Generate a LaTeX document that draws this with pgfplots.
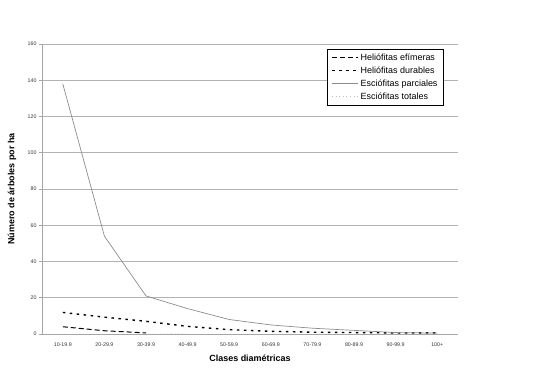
\documentclass[border=0pt]{standalone}
\usepackage{pgfplots}
\pgfplotsset{compat=1.18}
\usepackage{fontspec}
\setmainfont{Liberation Sans}
\begin{document}
\begin{tikzpicture}
\begin{axis}[
  name=ax, scale only axis, width=416bp, height=290bp,
  xmin=-0.5, xmax=9.5, ymin=0, ymax=160,
  xtick={0,...,9},
  xticklabels={10-19.9,20-29.9,30-39.9,40-49.9,50-59.9,60-69.9,70-79.9,80-89.9,90-99.9,100+},
  ytick={0,20,...,160},
  ymajorgrids, grid style={black!30, line width=0.8pt},
  axis x line*=bottom, axis y line*=left,
  axis line style={black!35, line width=0.8pt, -},
  x tick style={draw=none},
  y tick style={black!35, line width=0.8pt},
  major tick length=3bp, tick align=outside,
  /pgf/number format/assume math mode=true,
  tick label style={font=\fontsize{5.3}{6.5}\selectfont, text=black!80},
  xticklabel style={yshift=-2bp},
  yticklabel style={xshift=1bp},
  xlabel={Clases diamétricas},
  label style={font=\fontsize{9}{10}\selectfont\bfseries},
  xlabel style={at={(axis description cs:0.5,0)}, anchor=center, yshift=-24bp},
  legend style={at={(axis description cs:0.685,0.983)}, anchor=north west,
    draw=black, line width=0.8pt, font=\fontsize{9}{10.5}\selectfont, inner xsep=4bp, inner ysep=2.5bp,
    row sep=0.8bp},
  legend cell align=left,
  legend image code/.code={\draw[#1] (0bp,0bp) -- (26bp,0bp);},
  clip=false,
]
\addplot[black, line width=1pt, dash pattern=on 5bp off 3bp] coordinates {
 (0,4.0) (1,1.8) (2,0.6)};
\addlegendentry{Heliófitas efímeras}
\addplot[black, line width=1.4pt, dash pattern=on 2.5bp off 4.5bp] coordinates {
 (0,11.9) (1,9.3) (2,7.0) (3,4.2) (4,2.4) (5,1.5) (6,1.0) (7,0.8) (8,0.6) (9,0.6)};
\addlegendentry{Heliófitas durables}
\addplot[black!45, line width=0.7pt] coordinates {
 (0,138) (1,54) (2,21) (3,14) (4,8) (5,5) (6,3.2) (7,2) (8,0.8) (9,0.5)};
\addlegendentry{Esciófitas parciales\hspace{10bp}}
\addplot[black!25, line width=0.4pt, dash pattern=on 0.6bp off 3bp] coordinates {
 (2,0.3) (3,0.2)};
\addlegendentry{Esciófitas totales}
\node[rotate=90, anchor=center, font=\fontsize{9}{10}\selectfont\bfseries]
  at ([xshift=-30bp]axis description cs:0,0.5) {Número de árboles por ha};
\coordinate (sw) at (rel axis cs:0,0);
\coordinate (ne) at (rel axis cs:1,1);
\end{axis}
\pgfresetboundingbox
\path ([shift={(-42bp,-43bp)}]sw) rectangle ([shift={(92bp,44bp)}]ne);
\end{tikzpicture}
\end{document}
